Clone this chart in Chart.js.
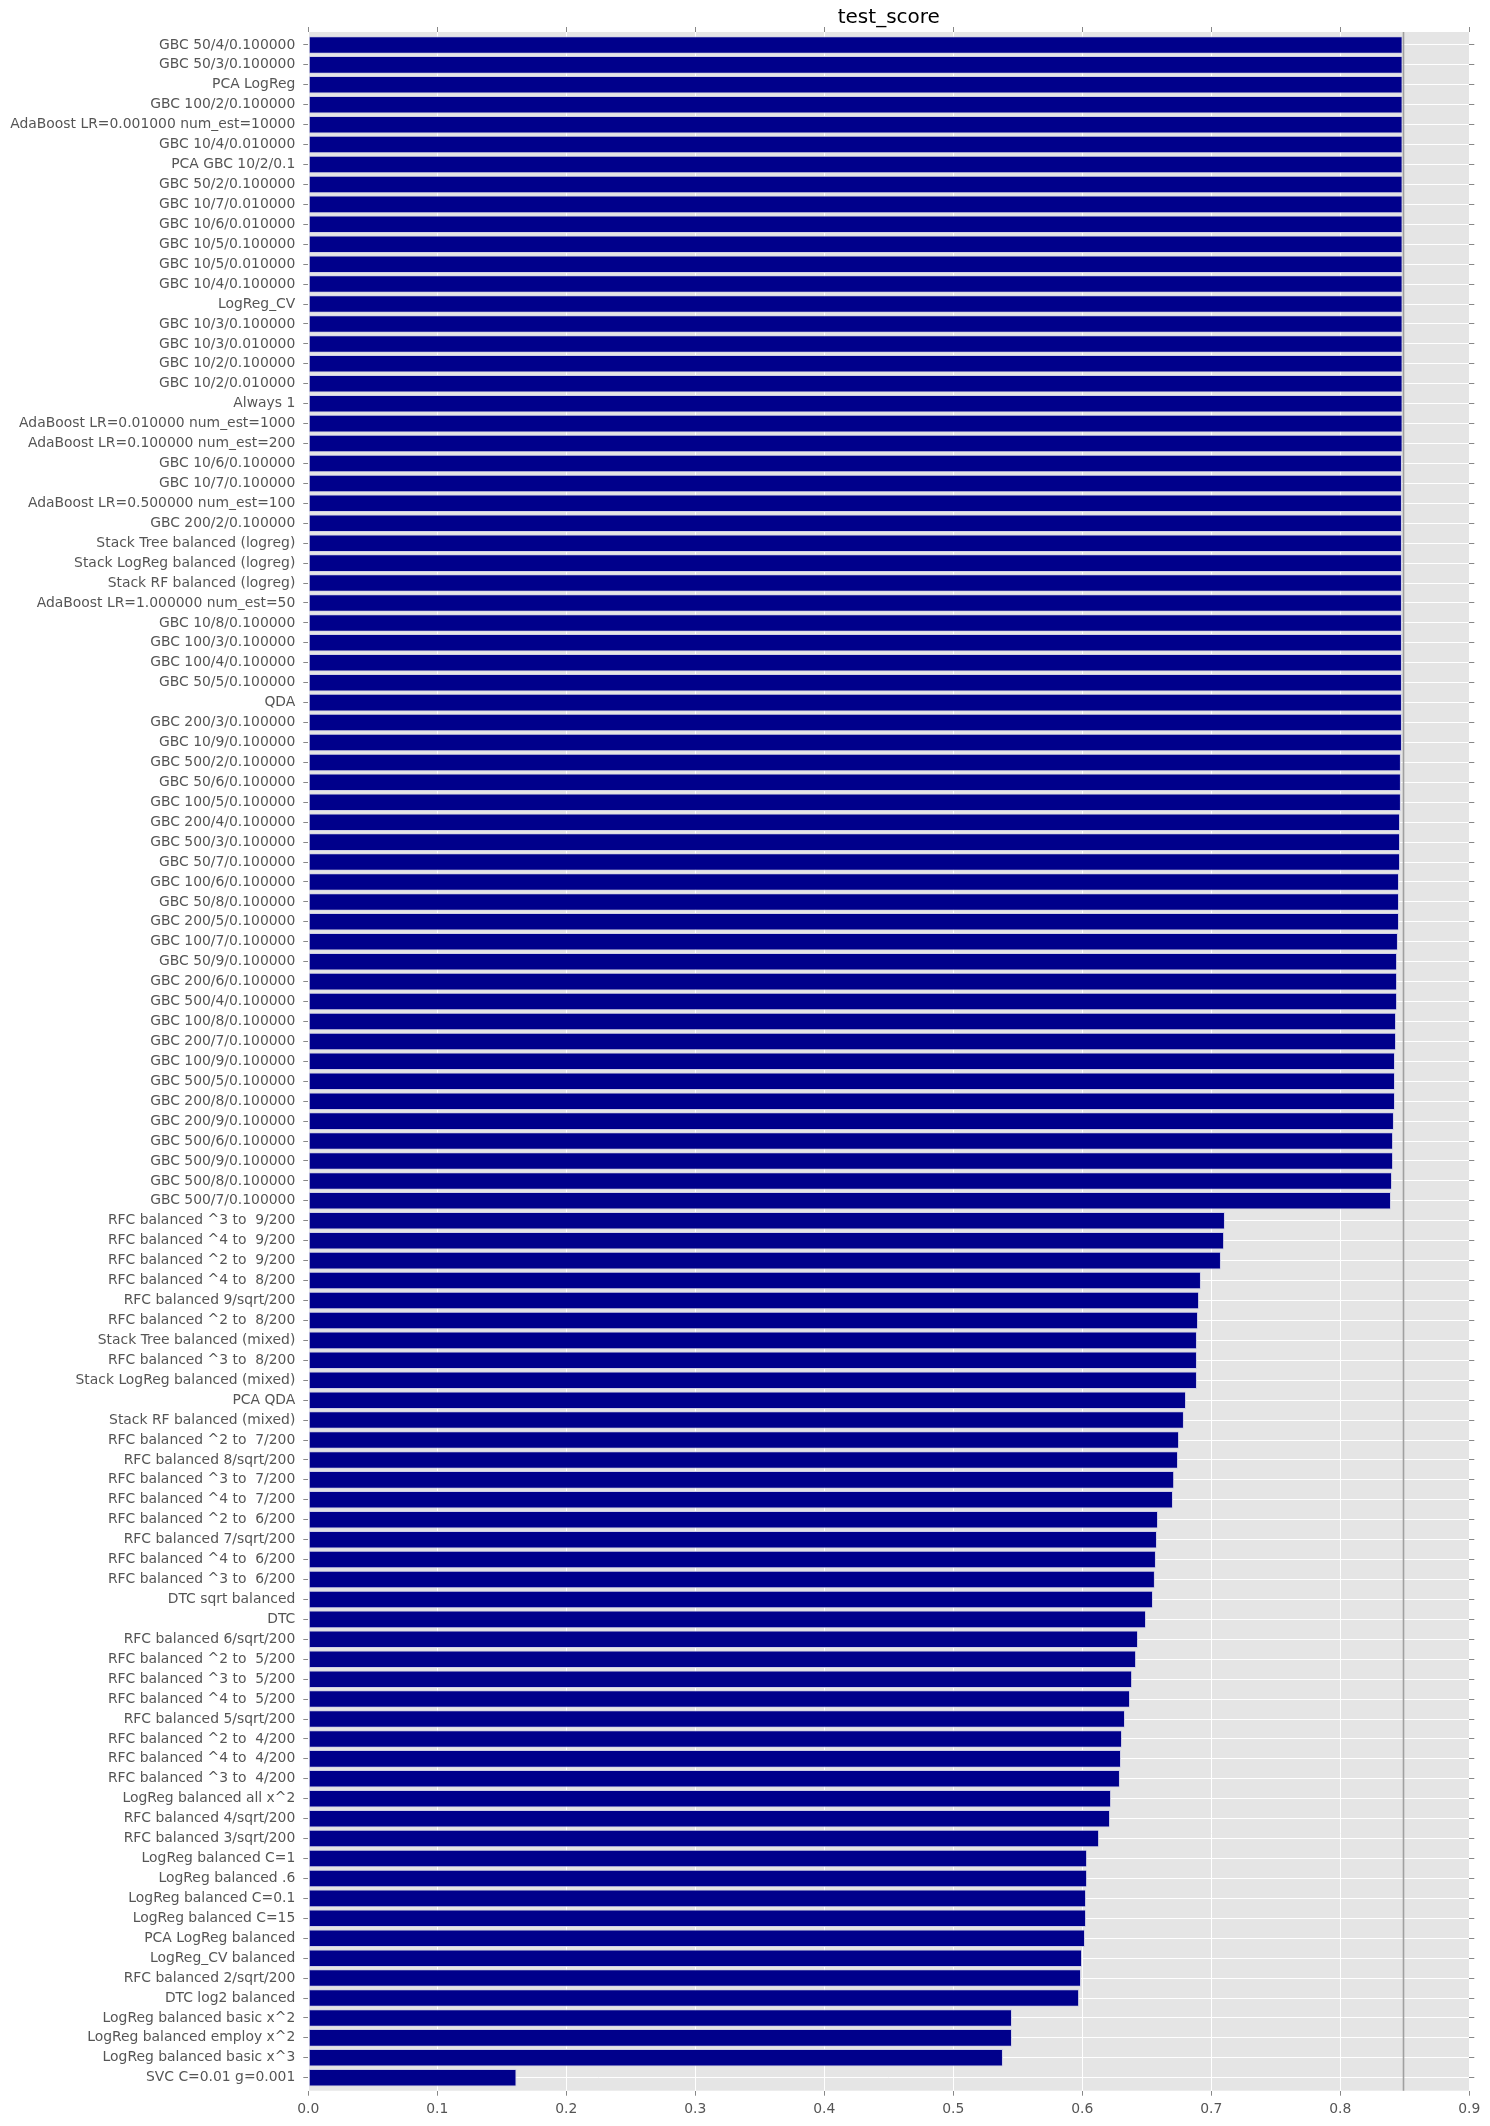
<!DOCTYPE html>
<html>
<head>
<meta charset="utf-8">
<script src="https://cdn.jsdelivr.net/npm/chart.js@4.4.1/dist/chart.umd.min.js"></script>
<style>
html, body { margin: 0; padding: 0; background: #ffffff; overflow: hidden; }
canvas { display: block; }
</style>
</head>
<body>
<canvas id="chart" width="1490" height="2126" style="width:1490px;height:2126px"></canvas>
<script>
const titleText = 'test_score';

const categories = [
  'GBC 50/4/0.100000',
  'GBC 50/3/0.100000',
  'PCA LogReg',
  'GBC 100/2/0.100000',
  'AdaBoost LR=0.001000 num_est=10000',
  'GBC 10/4/0.010000',
  'PCA GBC 10/2/0.1',
  'GBC 50/2/0.100000',
  'GBC 10/7/0.010000',
  'GBC 10/6/0.010000',
  'GBC 10/5/0.100000',
  'GBC 10/5/0.010000',
  'GBC 10/4/0.100000',
  'LogReg_CV',
  'GBC 10/3/0.100000',
  'GBC 10/3/0.010000',
  'GBC 10/2/0.100000',
  'GBC 10/2/0.010000',
  'Always 1',
  'AdaBoost LR=0.010000 num_est=1000',
  'AdaBoost LR=0.100000 num_est=200',
  'GBC 10/6/0.100000',
  'GBC 10/7/0.100000',
  'AdaBoost LR=0.500000 num_est=100',
  'GBC 200/2/0.100000',
  'Stack Tree balanced (logreg)',
  'Stack LogReg balanced (logreg)',
  'Stack RF balanced (logreg)',
  'AdaBoost LR=1.000000 num_est=50',
  'GBC 10/8/0.100000',
  'GBC 100/3/0.100000',
  'GBC 100/4/0.100000',
  'GBC 50/5/0.100000',
  'QDA',
  'GBC 200/3/0.100000',
  'GBC 10/9/0.100000',
  'GBC 500/2/0.100000',
  'GBC 50/6/0.100000',
  'GBC 100/5/0.100000',
  'GBC 200/4/0.100000',
  'GBC 500/3/0.100000',
  'GBC 50/7/0.100000',
  'GBC 100/6/0.100000',
  'GBC 50/8/0.100000',
  'GBC 200/5/0.100000',
  'GBC 100/7/0.100000',
  'GBC 50/9/0.100000',
  'GBC 200/6/0.100000',
  'GBC 500/4/0.100000',
  'GBC 100/8/0.100000',
  'GBC 200/7/0.100000',
  'GBC 100/9/0.100000',
  'GBC 500/5/0.100000',
  'GBC 200/8/0.100000',
  'GBC 200/9/0.100000',
  'GBC 500/6/0.100000',
  'GBC 500/9/0.100000',
  'GBC 500/8/0.100000',
  'GBC 500/7/0.100000',
  'RFC balanced ^3 to  9/200',
  'RFC balanced ^4 to  9/200',
  'RFC balanced ^2 to  9/200',
  'RFC balanced ^4 to  8/200',
  'RFC balanced 9/sqrt/200',
  'RFC balanced ^2 to  8/200',
  'Stack Tree balanced (mixed)',
  'RFC balanced ^3 to  8/200',
  'Stack LogReg balanced (mixed)',
  'PCA QDA',
  'Stack RF balanced (mixed)',
  'RFC balanced ^2 to  7/200',
  'RFC balanced 8/sqrt/200',
  'RFC balanced ^3 to  7/200',
  'RFC balanced ^4 to  7/200',
  'RFC balanced ^2 to  6/200',
  'RFC balanced 7/sqrt/200',
  'RFC balanced ^4 to  6/200',
  'RFC balanced ^3 to  6/200',
  'DTC sqrt balanced',
  'DTC',
  'RFC balanced 6/sqrt/200',
  'RFC balanced ^2 to  5/200',
  'RFC balanced ^3 to  5/200',
  'RFC balanced ^4 to  5/200',
  'RFC balanced 5/sqrt/200',
  'RFC balanced ^2 to  4/200',
  'RFC balanced ^4 to  4/200',
  'RFC balanced ^3 to  4/200',
  'LogReg balanced all x^2',
  'RFC balanced 4/sqrt/200',
  'RFC balanced 3/sqrt/200',
  'LogReg balanced C=1',
  'LogReg balanced .6',
  'LogReg balanced C=0.1',
  'LogReg balanced C=15',
  'PCA LogReg balanced',
  'LogReg_CV balanced',
  'RFC balanced 2/sqrt/200',
  'DTC log2 balanced',
  'LogReg balanced basic x^2',
  'LogReg balanced employ x^2',
  'LogReg balanced basic x^3',
  'SVC C=0.01 g=0.001'
];

const testScores = [
  0.8483, 0.8483, 0.8483, 0.8483, 0.8483, 0.8483, 0.8483, 0.8483, 0.8483, 0.8483,
  0.8483, 0.8483, 0.8483, 0.8483, 0.8483, 0.8483, 0.8483, 0.8483, 0.8483, 0.8483,
  0.8483, 0.8478, 0.8478, 0.8478, 0.8478, 0.8478, 0.8478, 0.8478, 0.8478, 0.8478,
  0.8478, 0.8478, 0.8478, 0.8478, 0.8478, 0.8478, 0.8470, 0.8470, 0.8470, 0.8463,
  0.8463, 0.8463, 0.8455, 0.8455, 0.8455, 0.8447, 0.8440, 0.8440, 0.8440, 0.8432,
  0.8432, 0.8424, 0.8424, 0.8424, 0.8416, 0.8409, 0.8409, 0.8401, 0.8393,
  0.7106, 0.7099, 0.7075, 0.6920, 0.6905, 0.6897, 0.6889, 0.6889, 0.6889, 0.6804,
  0.6788, 0.6750, 0.6742, 0.6712, 0.6703, 0.6587, 0.6579, 0.6571, 0.6563, 0.6548,
  0.6494, 0.6432, 0.6417, 0.6386, 0.6370, 0.6331, 0.6308, 0.6300, 0.6292, 0.6223,
  0.6215, 0.6130, 0.6037, 0.6037, 0.6029, 0.6029, 0.6021, 0.5998, 0.5990, 0.5975,
  0.5455, 0.5455, 0.5385, 0.1614
];

const xTickLabels = ['0.0', '0.1', '0.2', '0.3', '0.4', '0.5', '0.6', '0.7', '0.8', '0.9'];
const referenceScore = 0.8490;

Chart.defaults.font.family = "'DejaVu Sans', sans-serif";

const plotBackground = {
  id: 'plotBackground',
  beforeDraw(chart) {
    const { ctx, chartArea: a } = chart;
    ctx.save();
    ctx.fillStyle = '#E5E5E5';
    ctx.fillRect(a.left, a.top, a.right - a.left, a.bottom - a.top);
    ctx.restore();
  }
};

const referenceLine = {
  id: 'referenceLine',
  afterDatasetsDraw(chart) {
    const { ctx, chartArea: a } = chart;
    const x = chart.scales.x.getPixelForValue(referenceScore);
    ctx.save();
    ctx.strokeStyle = '#a0a0a0';
    ctx.lineWidth = 1.6;
    ctx.beginPath();
    ctx.moveTo(x, a.top);
    ctx.lineTo(x, a.bottom);
    ctx.stroke();
    ctx.restore();
  }
};

const points = categories.map((c, i) => ({ x: testScores[i], y: i }));
const rowMin = -0.65;
const rowMax = categories.length - 1 + 0.65;
const tickFont = { size: 13.9 };
const rowTicks = s => {
  s.ticks = categories.map((c, i) => ({ value: i }));
  s.min = rowMin;
  s.max = rowMax;
};

new Chart(document.getElementById('chart'), {
  type: 'bar',
  data: {
    datasets: [{
      label: titleText,
      data: points,
      backgroundColor: '#00008B',
      borderColor: '#cfcfe6',
      borderWidth: 1,
      borderSkipped: false,
      barPercentage: 0.88,
      categoryPercentage: 1.0
    }]
  },
  options: {
    indexAxis: 'y',
    responsive: false,
    animation: false,
    devicePixelRatio: 1,
    layout: { padding: 0 },
    plugins: {
      legend: { display: false },
      tooltip: { enabled: false },
      title: {
        display: true,
        text: titleText,
        fullSize: false,
        color: '#000000',
        font: { size: 20, weight: 'normal', lineHeight: 1.2 },
        padding: { top: 6, bottom: 0 }
      }
    },
    scales: {
      x: {
        type: 'linear',
        position: 'bottom',
        min: 0,
        max: 0.9,
        offset: false,
        border: { display: false },
        grid: { color: '#ffffff', lineWidth: 1, tickColor: '#888888', tickLength: 5, drawTicks: true, offset: false },
        ticks: {
          stepSize: 0.1,
          autoSkip: false,
          maxRotation: 0,
          color: '#555555',
          font: tickFont,
          padding: 5,
          callback: (v, i) => xTickLabels[i]
        },
        afterFit: s => { s.height = 35.3; }
      },
      x2: {
        type: 'linear',
        position: 'top',
        min: 0,
        max: 0.9,
        offset: false,
        border: { display: false },
        grid: { drawOnChartArea: false, tickColor: '#888888', tickLength: 5, offset: false },
        ticks: { stepSize: 0.1, display: false },
        afterFit: s => { s.height = 2; }
      },
      y: {
        type: 'linear',
        position: 'left',
        reverse: true,
        bounds: 'data',
        offset: false,
        min: rowMin,
        max: rowMax,
        border: { display: false },
        grid: { color: '#ffffff', lineWidth: 1, tickColor: '#888888', tickLength: 5, offset: false },
        ticks: {
          stepSize: 1,
          autoSkip: false,
          includeBounds: false,
          color: '#555555',
          font: tickFont,
          padding: 8,
          callback: v => categories[Math.round(v)]
        },
        afterBuildTicks: rowTicks,
        afterFit: s => { s.width = 308.3; }
      },
      y2: {
        type: 'linear',
        position: 'right',
        reverse: true,
        bounds: 'data',
        offset: false,
        min: rowMin,
        max: rowMax,
        border: { display: false },
        grid: { drawOnChartArea: false, tickColor: '#888888', tickLength: 5, offset: false },
        ticks: { stepSize: 1, autoSkip: false, includeBounds: false, display: false },
        afterBuildTicks: rowTicks,
        afterFit: s => { s.width = 20.7; }
      }
    }
  },
  plugins: [plotBackground, referenceLine]
});
</script>
</body>
</html>
